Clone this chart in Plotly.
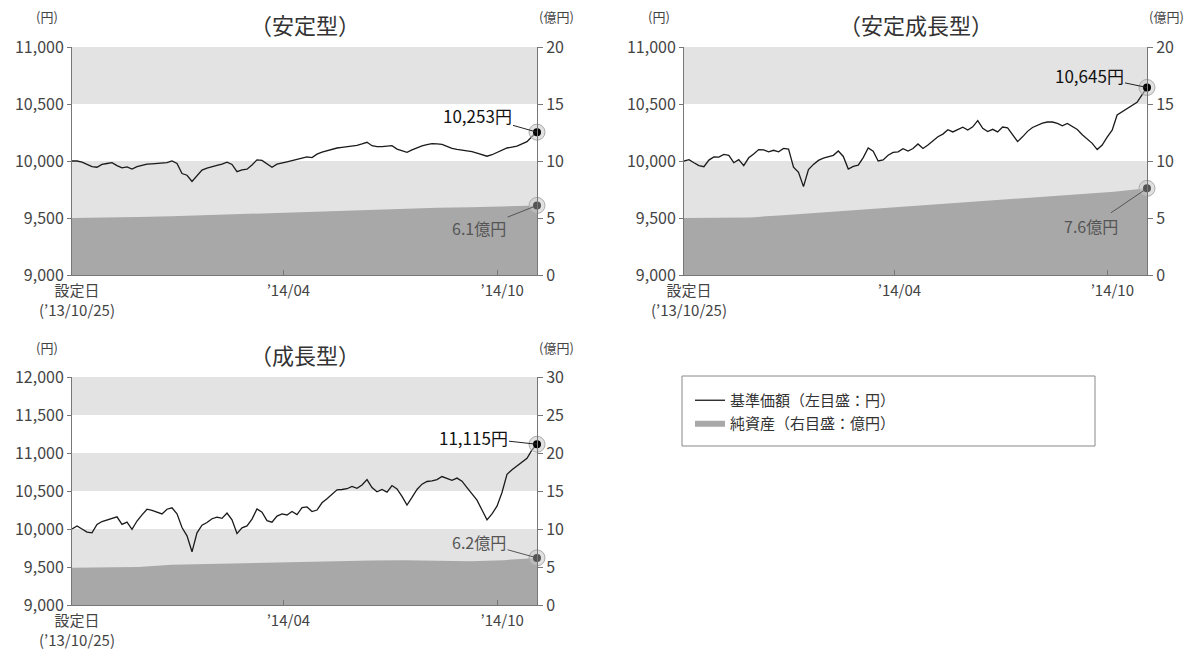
import pandas as pd
import plotly.graph_objects as go

W, H = 1203, 650
PAGE_PAD = 8  # default body margin of the html page
FONT = "Noto Sans CJK JP"

# period shown on the x axis
START = "2013-10-25"
END = "2014-11-14"
TICK_DATES = ["2013-10-25", "2014-04-18", "2014-10-12"]
TICK_TEXT = ["設定日<br>(’13/10/25)", "’14/04", "’14/10"]

TITLES = ["（安定型）", "（安定成長型）", "（成長型）"]
NAV_NAME = "基準価額（左目盛：円）"
AUM_NAME = "純資産（右目盛：億円）"

# 基準価額 (円)
nav_antei = [10000, 10000, 9990, 9972, 9950, 9945, 9970, 9978, 9985, 9960,
             9940, 9948, 9930, 9950, 9962, 9972, 9975, 9978, 9980, 9985,
             10000, 9978, 9890, 9875, 9820, 9875, 9920, 9938, 9952, 9962,
             9972, 9990, 9970, 9906, 9922, 9928, 9965, 10010, 10005, 9975,
             9945, 9972, 9985, 9992, 10003, 10012, 10024, 10036, 10030, 10060,
             10078, 10092, 10104, 10114, 10120, 10124, 10132, 10138, 10150, 10164,
             10134, 10126, 10126, 10130, 10134, 10104, 10088, 10076, 10098, 10118,
             10132, 10144, 10152, 10150, 10145, 10128, 10110, 10102, 10096, 10088,
             10082, 10070, 10057, 10042, 10055, 10075, 10098, 10114, 10122, 10130,
             10150, 10170, 10215, 10253]

nav_antei_seichou = [10000, 10012, 9985, 9960, 9950, 10008, 10036, 10034, 10058, 10050,
                     9985, 10012, 9960, 10028, 10062, 10100, 10098, 10080, 10094, 10080,
                     10110, 10105, 9945, 9900, 9775, 9925, 9970, 10005, 10025, 10036,
                     10050, 10088, 10040, 9930, 9952, 9963, 10030, 10115, 10085, 10000,
                     10010, 10050, 10075, 10080, 10108, 10088, 10110, 10150, 10110, 10140,
                     10180, 10213, 10236, 10275, 10255, 10275, 10296, 10272, 10300, 10354,
                     10287, 10258, 10278, 10255, 10298, 10290, 10235, 10170, 10212, 10260,
                     10294, 10316, 10332, 10342, 10342, 10330, 10308, 10330, 10300, 10276,
                     10230, 10192, 10155, 10100, 10140, 10210, 10270, 10404, 10433, 10462,
                     10484, 10515, 10580, 10645]

nav_seichou = [10000, 10040, 10000, 9960, 9950, 10060, 10098, 10118, 10145, 10160,
               10060, 10090, 9995, 10105, 10185, 10260, 10245, 10225, 10198, 10260,
               10279, 10200, 10020, 9910, 9700, 9950, 10050, 10085, 10135, 10155,
               10140, 10210, 10120, 9940, 10015, 10040, 10130, 10265, 10220, 10110,
               10090, 10170, 10198, 10185, 10230, 10190, 10280, 10290, 10230, 10250,
               10345, 10398, 10460, 10515, 10520, 10530, 10560, 10535, 10580, 10650,
               10545, 10490, 10520, 10485, 10572, 10528, 10430, 10315, 10415, 10520,
               10590, 10625, 10633, 10650, 10690, 10660, 10640, 10670, 10630, 10545,
               10460, 10380, 10250, 10120, 10200, 10300, 10480, 10720, 10780, 10830,
               10878, 10930, 11040, 11115]

# 純資産 (億円)
aum_antei = [5.0, 5.02, 5.08, 5.15, 5.25, 5.35, 5.45, 5.55, 5.65, 5.75, 5.82, 5.9, 5.95, 6.02, 6.1]
aum_antei_seichou = [5.0, 5.0, 5.05, 5.25, 5.45, 5.65, 5.85, 6.05, 6.3, 6.5, 6.7, 6.9, 7.1, 7.3, 7.6]
aum_seichou = [4.95, 4.95, 5.0, 5.3, 5.4, 5.5, 5.6, 5.7, 5.8, 5.85, 5.9, 5.85, 5.75, 5.9, 6.2]

LEFT_RANGE = [[9000, 11000], [9000, 11000], [9000, 12000]]
RIGHT_RANGE = [[0, 20], [0, 20], [0, 30]]

# plot boxes in window pixels: x0, x1, top, bottom
BOXES = [(72, 537, 47, 275), (684, 1147, 47, 275), (72, 537, 377, 605)]
# label offsets (px) for the end-value callouts: nav, aum
OFFSETS = [((-60, -17), (-58, 23)), ((-58, -12), (-56, 38)), ((-64, -7), (-58, -16))]

navs = [nav_antei, nav_antei_seichou, nav_seichou]
aums = [aum_antei, aum_antei_seichou, aum_seichou]

BAND = "#e3e3e3"
AREA = "#a8a8a8"
AXIS = "#777777"
TXT = "#444444"

FW, FH = W - PAGE_PAD, H - PAGE_PAD


def px(x):
    return (x - PAGE_PAD) / FW


def py(y):
    return 1 - (y - PAGE_PAD) / FH


def label(text, x, y, size, color=TXT):
    return dict(text=text, x=px(x), y=py(y), xref="paper", yref="paper",
                xanchor="center", yanchor="middle", showarrow=False,
                font=dict(family=FONT, size=size, color=color))


fig = go.Figure()
layout = {}
annotations = []
shapes = []

for i in range(3):
    n = i + 1
    xa = "x" if n == 1 else f"x{n}"
    yr = "y" if n == 1 else f"y{2 * n - 1}"   # right axis (net assets) - base
    yl = f"y{2 * n}"                          # left axis (nav) - overlay
    x0, x1, top, bot = BOXES[i]
    nav = navs[i]
    aum = aums[i]
    nav_dates = pd.date_range(START, END, periods=len(nav))
    aum_dates = pd.date_range(START, END, periods=len(aum))

    # net assets area
    fig.add_trace(go.Scatter(x=aum_dates, y=aum, xaxis=xa, yaxis=yr, mode="lines",
                             fill="tozeroy", fillcolor=AREA, line=dict(width=0, color=AREA),
                             name=AUM_NAME, showlegend=(n == 1), legendrank=2,
                             hoverinfo="skip"))
    # nav line
    fig.add_trace(go.Scatter(x=nav_dates, y=nav, xaxis=xa, yaxis=yl, mode="lines",
                             line=dict(color="#1a1a1a", width=1.3),
                             name=NAV_NAME, showlegend=(n == 1), legendrank=1,
                             hoverinfo="skip"))
    # end markers with halo
    for xs, ys, ax_id, dot in [(aum_dates[-1:], aum[-1:], yr, "#555555"),
                               (nav_dates[-1:], nav[-1:], yl, "#000000")]:
        fig.add_trace(go.Scatter(x=xs, y=ys, xaxis=xa, yaxis=ax_id, mode="markers",
                                 marker=dict(size=16, color="rgba(200,200,200,0.55)",
                                             line=dict(color="#aaaaaa", width=1)),
                                 showlegend=False, hoverinfo="skip", cliponaxis=False))
        fig.add_trace(go.Scatter(x=xs, y=ys, xaxis=xa, yaxis=ax_id, mode="markers",
                                 marker=dict(size=8, color=dot),
                                 showlegend=False, hoverinfo="skip", cliponaxis=False))

    dom_x = [px(x0), px(x1)]
    dom_y = [py(bot), py(top)]
    tickfont = dict(family=FONT, size=16, color=TXT)
    layout["xaxis" if n == 1 else f"xaxis{n}"] = dict(
        domain=dom_x, anchor=yr, range=[START, END], tickvals=TICK_DATES, ticktext=TICK_TEXT,
        showline=True, linecolor=AXIS, ticks="inside", ticklen=5, tickcolor=AXIS,
        showgrid=False, zeroline=False, tickfont=dict(family=FONT, size=15, color=TXT),
        ticklabelstandoff=2, ticklabelshift=5, automargin=False)
    layout["yaxis" if n == 1 else f"yaxis{2 * n - 1}"] = dict(
        domain=dom_y, anchor=xa, side="right", range=RIGHT_RANGE[i], dtick=5,
        showline=True, linecolor=AXIS, ticks="outside", ticklen=5, tickcolor=AXIS,
        showgrid=False, zeroline=False, tickfont=tickfont, automargin=False)
    layout[f"yaxis{2 * n}"] = dict(
        overlaying=yr, anchor=xa, side="left", range=LEFT_RANGE[i], dtick=500,
        tickformat=",d", showline=True, linecolor=AXIS, ticks="outside", ticklen=4,
        tickcolor=AXIS, showgrid=False, zeroline=False, tickfont=tickfont, automargin=False)

    # alternating background bands (every 500 yen, top band gray)
    lo, hi = LEFT_RANGE[i]
    j = 0
    v = hi
    while v > lo:
        if j % 2 == 0:
            shapes.append(dict(type="rect", xref=f"{xa} domain", yref=yl, x0=0, x1=1,
                               y0=v - 500, y1=v, fillcolor=BAND, line_width=0, layer="below"))
        v -= 500
        j += 1

    # titles and unit labels
    annotations.append(label(TITLES[i], (x0 + x1) / 2, top - 23, 22, "#333333"))
    annotations.append(label("(円)", x0 - 25, top - 30, 13))
    annotations.append(label("(億円)", x1 + 19, top - 30, 13))

    # callouts for the latest values
    (nax, nay), (aax, aay) = OFFSETS[i]
    annotations.append(dict(text=f"{nav[-1]:,}円", x=nav_dates[-1], y=nav[-1], xref=xa, yref=yl,
                            ax=nax, ay=nay, showarrow=True, arrowhead=0, arrowwidth=1,
                            arrowcolor="#222222", font=dict(family=FONT, size=17, color="#111111")))
    annotations.append(dict(text=f"{aum[-1]}億円", x=aum_dates[-1], y=aum[-1], xref=xa, yref=yr,
                            ax=aax, ay=aay, showarrow=True, arrowhead=0, arrowwidth=1,
                            arrowcolor="#555555", font=dict(family=FONT, size=16, color="#555555")))

# legend frame
shapes.append(dict(type="rect", xref="paper", yref="paper", x0=px(682), x1=px(1095),
                   y0=py(446), y1=py(376), line=dict(color="#888888", width=1), layer="above"))

fig.update_layout(
    width=FW, height=FH,
    margin=dict(l=0, r=0, t=0, b=0, autoexpand=False),
    paper_bgcolor="white", plot_bgcolor="white",
    font=dict(family=FONT, color=TXT),
    showlegend=True,
    legend=dict(x=px(690), y=py(384), xanchor="left", yanchor="top", bgcolor="rgba(0,0,0,0)",
                font=dict(family=FONT, size=15, color="#333333"), itemwidth=30,
                traceorder="normal"),
    annotations=annotations,
    shapes=shapes,
    **layout,
)

fig.write_html("out.html")
